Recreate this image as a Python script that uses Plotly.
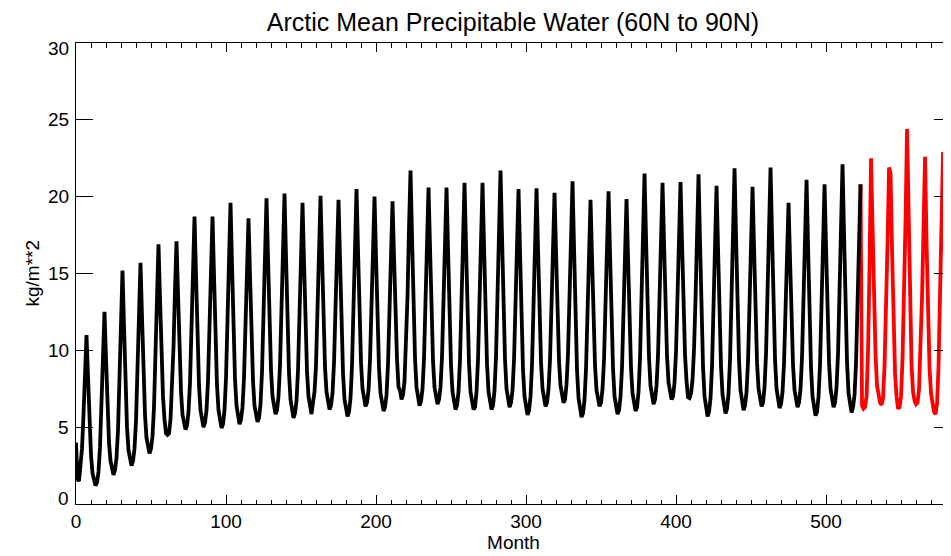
import plotly.graph_objects as go

# Monthly Arctic mean precipitable water (kg/m**2), black series, years 0-9
black_y00_09 = [
    4.0, 1.6, 1.5, 2.3, 3.6, 5.8, 8.6, 11.0, 8.3, 5.3, 3.2, 2.0,
    1.5, 1.2, 1.4, 2.1, 3.7, 6.3, 9.7, 12.5, 9.5, 6.4, 4.0, 2.8,
    2.2, 1.9, 2.2, 3.0, 4.8, 7.9, 11.9, 15.2, 11.6, 7.8, 5.0, 3.5,
    2.9, 2.5, 2.8, 3.6, 5.4, 8.4, 12.4, 15.7, 12.2, 8.5, 5.8, 4.3,
    3.7, 3.3, 3.6, 4.4, 6.3, 9.4, 13.5, 16.9, 13.4, 9.7, 7.0, 5.5,
    4.6, 4.5, 4.6, 5.5, 7.3, 10.2, 14.0, 17.1, 13.7, 10.0, 7.3, 5.8,
    5.4, 4.85, 5.1, 6.0, 7.9, 11.1, 15.2, 18.7, 14.9, 10.8, 7.7, 6.1,
    5.4, 5.0, 5.3, 6.1, 8.0, 11.2, 15.3, 18.7, 14.9, 10.7, 7.7, 6.1,
    5.4, 4.95, 5.2, 6.1, 8.2, 11.5, 15.9, 19.6, 15.6, 11.3, 8.1, 6.4,
    5.6, 5.2, 5.5, 6.3, 8.2, 11.2, 15.3, 18.6, 14.9, 10.9, 8.0, 6.4,
]
black_y10_19 = [
    5.7, 5.35, 5.6, 6.5, 8.6, 11.9, 16.3, 19.9, 16.0, 11.8, 8.7, 7.0,
    6.2, 5.85, 6.1, 7.0, 9.0, 12.3, 16.6, 20.2, 16.1, 11.7, 8.5, 6.8,
    6.0, 5.6, 5.9, 6.7, 8.7, 11.9, 16.1, 19.6, 15.8, 11.6, 8.6, 7.0,
    6.3, 5.85, 6.6, 7.3, 9.0, 12.2, 16.5, 20.05, 16.2, 12.0, 8.9, 7.3,
    6.5, 6.15, 6.4, 7.2, 9.2, 12.3, 16.4, 19.8, 15.9, 11.6, 8.5, 6.8,
    6.1, 5.7, 6.0, 6.9, 9.0, 12.4, 16.8, 20.5, 16.5, 12.3, 9.2, 7.5,
    6.7, 6.35, 6.6, 7.4, 9.4, 12.5, 16.6, 20.0, 16.1, 11.9, 8.8, 7.2,
    6.4, 6.05, 6.3, 7.1, 9.1, 12.2, 16.3, 19.7, 16.1, 12.2, 9.4, 7.6,
    7.4, 6.8, 7.1, 8.0, 10.1, 13.5, 18.0, 21.7, 17.4, 12.8, 9.5, 7.6,
    6.8, 6.4, 6.7, 7.5, 9.5, 12.8, 17.1, 20.6, 16.7, 12.4, 9.3, 7.6,
]
black_y20_29 = [
    6.9, 6.5, 6.8, 7.6, 9.6, 12.9, 17.1, 20.6, 16.6, 12.2, 9.0, 7.3,
    6.5, 6.15, 6.4, 7.3, 9.4, 12.8, 17.2, 20.9, 16.8, 12.4, 9.1, 7.3,
    6.6, 6.15, 6.3, 7.3, 9.4, 12.8, 17.2, 20.9, 16.8, 12.4, 9.1, 7.3,
    6.5, 6.15, 6.4, 7.4, 9.6, 13.2, 17.8, 21.7, 17.4, 12.8, 9.4, 7.5,
    6.7, 6.3, 6.6, 7.4, 9.4, 12.7, 17.0, 20.5, 16.4, 12.0, 8.7, 7.0,
    6.2, 5.8, 6.1, 7.0, 9.1, 12.4, 16.9, 20.55, 16.6, 12.3, 9.2, 7.5,
    6.7, 6.35, 6.6, 7.5, 9.4, 12.6, 16.8, 20.25, 16.4, 12.3, 9.3, 7.7,
    6.9, 6.6, 6.8, 7.8, 9.8, 13.1, 17.4, 21.0, 16.7, 12.1, 8.7, 6.9,
    6.1, 5.65, 5.9, 6.8, 8.8, 12.0, 16.3, 19.8, 16.0, 12.0, 9.0, 7.4,
    6.7, 6.35, 6.6, 7.5, 9.4, 12.7, 16.9, 20.35, 16.3, 11.9, 8.8, 7.0,
]
black_y30_39 = [
    6.2, 5.85, 6.1, 7.0, 8.9, 12.2, 16.4, 19.85, 16.0, 11.9, 8.8, 7.2,
    6.4, 6.05, 6.3, 7.3, 9.5, 13.0, 17.6, 21.5, 17.3, 12.8, 9.5, 7.7,
    6.9, 6.5, 6.8, 7.7, 9.7, 13.0, 17.3, 20.9, 17.0, 12.7, 9.6, 7.9,
    7.1, 6.8, 7.0, 7.9, 9.9, 13.2, 17.4, 20.95, 17.0, 12.8, 9.7, 8.0,
    6.95, 6.9, 7.2, 8.1, 10.1, 13.4, 17.8, 21.45, 17.0, 12.3, 8.9, 7.0,
    6.1, 5.7, 6.0, 6.9, 9.0, 12.5, 17.0, 20.7, 16.6, 12.1, 8.9, 7.1,
    6.3, 5.9, 6.2, 7.2, 9.4, 13.1, 17.9, 21.85, 17.4, 12.7, 9.3, 7.4,
    6.5, 6.1, 6.4, 7.3, 9.3, 12.7, 17.0, 20.65, 16.7, 12.4, 9.2, 7.5,
    6.7, 6.35, 6.6, 7.6, 9.8, 13.4, 18.0, 21.9, 17.5, 12.8, 9.4, 7.5,
    6.6, 6.25, 6.5, 7.3, 9.2, 12.3, 16.3, 19.6, 15.9, 11.9, 9.0, 7.4,
]
black_y40_43 = [
    6.7, 6.3, 6.6, 7.5, 9.6, 13.0, 17.4, 21.1, 16.8, 12.2, 8.8, 7.0,
    6.1, 5.75, 6.0, 7.0, 9.1, 12.5, 17.0, 20.8, 16.7, 12.4, 9.2, 7.5,
    6.7, 6.3, 6.6, 7.6, 9.8, 13.4, 18.2, 22.1, 17.6, 12.7, 9.2, 7.2,
    6.4, 5.95, 6.3, 7.1, 9.2, 12.6, 17.1, 20.8,
]
# Red series (continuation), months 524 onward
red_values = [
    6.4, 6.2, 6.3, 7.0, 10.0, 15.5, 22.5, 18.0, 13.2, 9.7, 7.7, 6.9,
    6.6, 6.45, 6.9, 9.0, 12.5, 17.0, 21.9, 21.5, 16.5, 11.5, 8.5, 7.0,
    6.2, 6.3, 7.0, 9.5, 13.5, 18.5, 24.4, 18.0, 12.5, 9.0, 7.3, 6.7,
    6.5, 6.6, 7.5, 10.0, 13.5, 18.0, 22.6, 17.0, 12.0, 8.8, 7.2, 6.4,
    6.0, 5.85, 6.5, 9.0, 13.0, 18.0, 22.9, 17.3, 12.5, 9.2, 7.4, 6.6, 6.3,
]
x_tick_values = [0, 100, 200, 300, 400, 500]
y_tick_values = [0, 5, 10, 15, 20, 25, 30]

black_values = black_y00_09 + black_y10_19 + black_y20_29 + black_y30_39 + black_y40_43
black_months = list(range(len(black_values)))
red_start = len(black_values)
red_months = [red_start - 1] + list(range(red_start, red_start + len(red_values)))
red_plot_values = [black_values[-1]] + red_values

FONT = "Liberation Sans, Arial, Helvetica, sans-serif"

# The page body has an 8px margin, so the figure is 8px smaller than the window
W, H = 943, 548

fig = go.Figure()
fig.add_trace(go.Scatter(x=red_months, y=red_plot_values, mode="lines",
                         line=dict(color="#ff0000", width=3.8), hoverinfo="skip"))
fig.add_trace(go.Scatter(x=black_months, y=black_values, mode="lines",
                         line=dict(color="#000000", width=3.8), hoverinfo="skip"))

# y tick labels placed like the original (end labels nudged inside the axis span)
y_lo, y_hi = y_tick_values[0], y_tick_values[-1]
for v in y_tick_values:
    shift = 6 if v == y_lo else (-5 if v == y_hi else 0)
    fig.add_annotation(x=0, xref="paper", y=v, yref="y", text=str(v),
                       showarrow=False, xanchor="right", yanchor="middle",
                       xshift=-5, yshift=shift,
                       font=dict(family=FONT, size=19, color="black"))

fig.update_layout(
    width=W, height=H,
    margin=dict(l=68, r=0, t=35, b=52),
    plot_bgcolor="white", paper_bgcolor="white",
    showlegend=False,
    font=dict(family=FONT, color="black", size=19),
    title=dict(text="Arctic Mean Precipitable Water (60N to 90N)",
               x=505 / W, xanchor="center", xref="container",
               y=1 - 14 / H, yanchor="middle", yref="container",
               font=dict(family=FONT, size=25, color="black")),
)
fig.update_xaxes(
    range=[0, 583.3], tickvals=x_tick_values,
    ticks="inside", ticklen=9, tickwidth=1, tickcolor="black",
    minor=dict(dtick=10, tick0=0, ticks="inside", ticklen=4.5, tickwidth=1, tickcolor="black"),
    showline=True, linecolor="black", linewidth=1, mirror="ticks",
    showgrid=False, zeroline=False,
    tickfont=dict(size=19),
    title=dict(text="Month", font=dict(size=19), standoff=3),
)
fig.update_yaxes(
    range=[0, 30], tickvals=y_tick_values, showticklabels=False,
    ticks="inside", ticklen=17, tickwidth=1, tickcolor="black",
    showline=True, linecolor="black", linewidth=1, mirror="ticks",
    showgrid=False, zeroline=False,
    automargin=False,
)
fig.add_annotation(x=0, xref="paper", xanchor="center", xshift=-44,
                   y=0.5, yref="paper", yanchor="middle",
                   text="kg/m**2", textangle=-90, showarrow=False,
                   font=dict(family=FONT, size=19, color="black"))

fig.write_html("out.html")
